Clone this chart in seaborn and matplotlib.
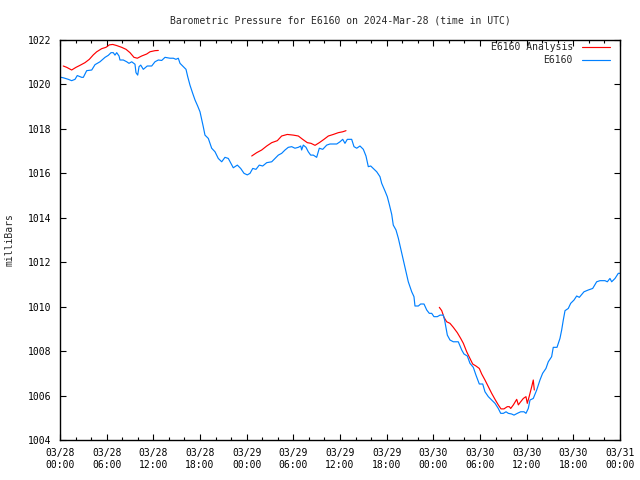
import numpy as np
import pandas as pd
import matplotlib
matplotlib.use("Agg")
import matplotlib.pyplot as plt
import matplotlib.dates as mdates
from matplotlib.ticker import MultipleLocator
import seaborn as sns

# ---------------- data (hours since 2024-03-28 00:00 UTC, millibars) ----------------
station_hours = [0.0, 0.42, 1.07, 1.5, 1.93, 2.22, 2.79, 3.0, 3.43, 4.08, 4.5, 5.14, 5.79, 6.21,
                 6.56, 6.85, 7.07, 7.29, 7.59, 7.71, 8.14, 8.58, 8.87, 9.22, 9.64, 9.77, 9.99,
                 10.16, 10.38, 10.71, 11.22, 11.79, 12.21, 12.64, 13.08, 13.5, 14.14, 14.57,
                 14.91, 15.21, 15.43, 15.85, 16.2, 16.42, 16.71, 17.06, 17.36, 17.7, 18.0,
                 18.42, 18.64, 19.07, 19.5, 19.93, 20.35, 20.79, 21.21, 21.64, 22.28, 22.8,
                 23.23, 23.66, 24.08, 24.43, 24.78, 25.2, 25.62, 26.06, 26.58, 27.22, 27.64,
                 28.07, 28.5, 28.93, 29.35, 29.79, 30.21, 30.64, 30.95, 31.07, 31.28, 31.63,
                 31.92, 32.23, 32.57, 33.0, 33.34, 33.78, 34.29, 34.71, 35.58, 36.0, 36.35,
                 36.64, 36.94, 37.5, 37.8, 38.15, 38.57, 39.0, 39.34, 39.64, 39.95, 40.28,
                 40.72, 41.14, 41.36, 41.79, 42.08, 42.34, 42.65, 42.85, 43.2, 43.5, 43.8,
                 44.14, 44.49, 44.78, 45.22, 45.51, 45.64, 46.07, 46.37, 46.8, 47.15, 47.48,
                 47.79, 48.08, 48.51, 48.86, 49.28, 49.45, 49.6, 49.8, 50.14, 50.57, 51.21,
                 51.65, 51.94, 52.37, 52.71, 53.14, 53.48, 53.91, 54.35, 54.64, 55.07, 55.5,
                 55.93, 56.35, 56.66, 57.0, 57.35, 57.64, 58.07, 58.37, 58.8, 59.23, 59.66,
                 59.91, 60.21, 60.43, 60.85, 61.29, 61.71, 62.05, 62.48, 62.78, 63.21, 63.42,
                 63.9, 64.28, 64.5, 64.71, 64.93, 65.35, 65.66, 66.09, 66.43, 66.77, 67.37,
                 67.92, 68.49, 69.0, 69.43, 70.07, 70.37, 70.71, 70.93, 71.36, 71.78, 72.0]
station_mb = [1020.33, 1020.30, 1020.23, 1020.17, 1020.23, 1020.40, 1020.32, 1020.32, 1020.62,
              1020.65, 1020.89, 1021.02, 1021.22, 1021.31, 1021.43, 1021.43, 1021.32, 1021.43,
              1021.28, 1021.10, 1021.10, 1021.02, 1020.95, 1021.02, 1020.91, 1020.53, 1020.42,
              1020.80, 1020.87, 1020.68, 1020.83, 1020.83, 1021.02, 1021.10, 1021.08, 1021.22,
              1021.18, 1021.18, 1021.13, 1021.18, 1020.95, 1020.80, 1020.68, 1020.35, 1019.97,
              1019.60, 1019.30, 1019.03, 1018.77, 1018.10, 1017.72, 1017.57, 1017.13, 1016.97,
              1016.67, 1016.52, 1016.72, 1016.67, 1016.25, 1016.37, 1016.22, 1016.00, 1015.93,
              1016.00, 1016.22, 1016.18, 1016.37, 1016.33, 1016.48, 1016.52, 1016.67, 1016.82,
              1016.90, 1017.05, 1017.17, 1017.20, 1017.13, 1017.17, 1017.23, 1017.05, 1017.27,
              1017.17, 1016.97, 1016.82, 1016.82, 1016.72, 1017.13, 1017.08, 1017.27, 1017.32,
              1017.32, 1017.42, 1017.53, 1017.35, 1017.53, 1017.53, 1017.20, 1017.13, 1017.23,
              1017.08, 1016.78, 1016.30, 1016.33, 1016.22, 1016.07, 1015.85, 1015.55, 1015.20,
              1014.95, 1014.60, 1014.15, 1013.67, 1013.45, 1013.08, 1012.63, 1012.10, 1011.57,
              1011.12, 1010.67, 1010.45, 1010.03, 1010.03, 1010.12, 1010.12, 1009.85, 1009.70,
              1009.70, 1009.55, 1009.55, 1009.62, 1009.62, 1009.40, 1009.10, 1008.72, 1008.50,
              1008.42, 1008.42, 1008.05, 1007.87, 1007.78, 1007.45, 1007.27, 1006.92, 1006.52,
              1006.52, 1006.17, 1005.95, 1005.80, 1005.65, 1005.42, 1005.20, 1005.20, 1005.27,
              1005.20, 1005.17, 1005.12, 1005.20, 1005.27, 1005.27, 1005.20, 1005.42, 1005.80,
              1005.87, 1006.25, 1006.70, 1007.00, 1007.22, 1007.52, 1007.75, 1008.17, 1008.17,
              1008.57, 1008.95, 1009.40, 1009.82, 1009.92, 1010.15, 1010.30, 1010.48, 1010.42,
              1010.67, 1010.75, 1010.82, 1011.12, 1011.17, 1011.17, 1011.12, 1011.27, 1011.12,
              1011.27, 1011.50, 1011.50]

analysis1_hours = [0.42, 0.86, 1.5, 2.06, 2.57, 3.21, 3.77, 4.28, 4.72, 5.36, 5.91, 6.34, 6.78,
                   7.29, 7.93, 8.49, 9.0, 9.51, 9.94, 10.5, 11.15, 11.57, 12.21, 12.64]
analysis1_mb = [1020.83, 1020.77, 1020.65, 1020.77, 1020.86, 1020.98, 1021.13, 1021.33, 1021.47,
                1021.61, 1021.67, 1021.78, 1021.80, 1021.75, 1021.67, 1021.58, 1021.43, 1021.22,
                1021.18, 1021.28, 1021.37, 1021.47, 1021.52, 1021.53]

analysis2_hours = [24.65, 25.29, 25.93, 26.58, 27.22, 27.94, 28.5, 29.22, 30.0, 30.64, 31.2,
                   31.8, 32.27, 32.79, 33.34, 33.94, 34.5, 35.14, 35.78, 36.35, 36.77]
analysis2_mb = [1016.78, 1016.93, 1017.05, 1017.23, 1017.38, 1017.47, 1017.68, 1017.75, 1017.72,
                1017.68, 1017.53, 1017.38, 1017.35, 1017.26, 1017.38, 1017.53, 1017.68, 1017.75,
                1017.83, 1017.87, 1017.92]

analysis3_hours = [48.77, 49.08, 49.37, 49.72, 50.14, 50.57, 51.08, 51.52, 51.86, 52.29, 52.71,
                   53.06, 53.48, 53.91, 54.22, 54.64, 55.07, 55.5, 55.93, 56.35, 56.7, 57.08,
                   57.51, 57.77, 57.95, 58.29, 58.72, 58.93, 59.14, 59.57, 59.91, 60.08, 60.34,
                   60.65, 60.85, 60.98]
analysis3_mb = [1009.97, 1009.82, 1009.52, 1009.32, 1009.25, 1009.07, 1008.83, 1008.57, 1008.35,
                1007.97, 1007.67, 1007.42, 1007.33, 1007.22, 1006.97, 1006.70, 1006.40, 1006.10,
                1005.83, 1005.58, 1005.40, 1005.40, 1005.50, 1005.50, 1005.42, 1005.58, 1005.83,
                1005.58, 1005.68, 1005.87, 1005.95, 1005.65, 1005.98, 1006.40, 1006.70, 1006.25]

start_time = "2024-03-28 00:00"
end_time = "2024-03-31 00:00"
title = "Barometric Pressure for E6160 on 2024-Mar-28 (time in UTC)"
ylabel = "milliBars"
station_label = "E6160"
analysis_label = "E6160 Analysis"

# ---------------- build frames ----------------
t0 = pd.Timestamp(start_time)

def frame(hours, vals):
    return pd.DataFrame({"time": t0 + pd.to_timedelta(hours, unit="h"), "mb": vals})

station = frame(station_hours, station_mb)
analysis_segments = [frame(analysis1_hours, analysis1_mb),
                     frame(analysis2_hours, analysis2_mb),
                     frame(analysis3_hours, analysis3_mb)]

# ---------------- plot ----------------
sns.set_style("ticks")
plt.rcParams["font.family"] = ["DejaVu Sans Mono"]
plt.rcParams["font.size"] = 7

fig = plt.figure(figsize=(6.4, 4.8), dpi=100)
ax = fig.add_axes([60 / 640, 40 / 480, 560 / 640, 400 / 480])

red = "#ff0000"
blue = "#0080ff"
lw = 0.85

for i, seg in enumerate(analysis_segments):
    sns.lineplot(data=seg, x="time", y="mb", ax=ax, color=red, linewidth=lw,
                 label=analysis_label if i == 0 else None, legend=False)
sns.lineplot(data=station, x="time", y="mb", ax=ax, color=blue, linewidth=lw,
             label=station_label, legend=False)

ax.set_xlim(pd.Timestamp(start_time), pd.Timestamp(end_time))
ax.set_ylim(1004, 1022)
ax.yaxis.set_major_locator(MultipleLocator(2))
ax.yaxis.set_major_formatter(matplotlib.ticker.FormatStrFormatter("%d"))
ax.xaxis.set_major_locator(mdates.HourLocator(byhour=range(0, 24, 6)))
ax.xaxis.set_minor_locator(mdates.HourLocator(byhour=range(0, 24, 2)))
ax.xaxis.set_major_formatter(mdates.DateFormatter("%m/%d\n%H:%M"))

for s in ax.spines.values():
    s.set_visible(True)
    s.set_color("black")
    s.set_linewidth(1.0)

ax.tick_params(axis="both", which="both", direction="in", top=True, right=True,
               colors="black", width=0.8, labelsize=7)
ax.tick_params(axis="both", which="major", length=4.5)
ax.tick_params(axis="both", which="minor", length=2.5)
ax.tick_params(axis="x", which="major", pad=6)
ax.tick_params(axis="y", which="major", pad=6)

ax.set_xlabel("")
ax.set_ylabel(ylabel, fontsize=7)
ax.yaxis.set_label_coords(-45 / 560, 0.5)
ax.set_title(title, fontsize=7, pad=12)

handles = [l for l in ax.get_lines() if not l.get_label().startswith("_")]
leg = ax.legend(handles=handles, labels=[h.get_label() for h in handles],
                loc="upper right", bbox_to_anchor=(0.982, 0.995), frameon=False,
                markerfirst=False, handlelength=2.9, handletextpad=0.9,
                labelspacing=0.35, borderpad=0, borderaxespad=0, fontsize=7)

fig.savefig("out.png", dpi=100, facecolor="white")
